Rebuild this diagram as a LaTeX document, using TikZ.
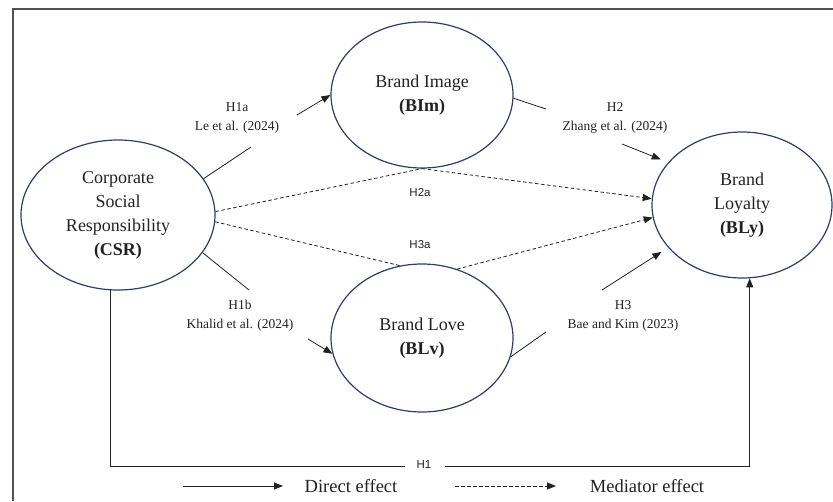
\documentclass[tikz,border=0pt]{standalone}
\usepackage{fontspec}
\setmainfont{Liberation Serif}
\newfontfamily\hsans{Liberation Sans}
\usetikzlibrary{shapes.geometric,arrows.meta}
\definecolor{navy}{RGB}{44,62,105}
\definecolor{ink}{RGB}{34,34,34}
\definecolor{framegray}{RGB}{80,80,80}
\begin{document}
\begin{tikzpicture}[x=1pt,y=-1pt,
  ell/.style={ellipse,draw=navy,line width=1.2pt,inner sep=0pt,align=center,text=ink,font=\fontsize{18}{24}\selectfont},
  cite/.style={align=center,text=ink,font=\fontsize{13.5}{19}\selectfont},
  hlab/.style={text=ink,font=\hsans\fontsize{11.5}{14}\selectfont},
  conn/.style={draw=ink,line width=0.8pt},
  arr/.style={conn,-{Triangle[length=9pt,width=7pt]}},
  dsh/.style={draw=ink,line width=0.8pt,dash pattern=on 3.5pt off 2.5pt},
  darr/.style={dsh,-{Triangle[length=9pt,width=7pt]}},
  leg/.style={text=ink,font=\fontsize{18.5}{22}\selectfont}]
\useasboundingbox (0,0) rectangle (833,501);
\draw[framegray,line width=1.5pt] (13,501) -- (13,9) -- (833,9);

% constructs
\node[ell,minimum width=194pt,minimum height=150pt] (CSR) at (118,215) {Corporate\\Social\\Responsibility\\\textbf{(CSR)}};
\node[ell,minimum width=182pt,minimum height=146pt] (BIm) at (422,95) {Brand Image\\\textbf{(BIm)}};
\node[ell,minimum width=182pt,minimum height=148pt] (BLv) at (422,338) {Brand Love\\\textbf{(BLv)}};
\node[ell,minimum width=180pt,minimum height=146pt] (BLy) at (742,205) {Brand\\Loyalty\\\textbf{(BLy)}};

% labels
\node[cite] (lH1a) at (237,118) {H1a\\Le et al. (2024)};
\node[cite] (lH1b) at (240,316) {H1b\\Khalid et al. (2024)};
\node[cite] (lH2) at (615,118) {H2\\Zhang et al. (2024)};
\node[cite] (lH3) at (623,316) {H3\\Bae and Kim (2023)};
\node[hlab] (lH2a) at (420,193) {H2a};
\node[hlab] (lH3a) at (420,245) {H3a};
\node[hlab] (lH1) at (424,465) {H1};

% H1a
\coordinate (a1) at (251,147);
\coordinate (a2) at (297,115);
\draw[conn] (CSR.23) -- (a1);
\draw[arr] (a2) -- (BIm.west);
% H1b
\coordinate (b1) at (249,290);
\coordinate (b2) at (308,339);
\draw[conn] (CSR.-24) -- (b1);
\draw[arr] (b2) -- (BLv.190);
% H2
\coordinate (c1) at (546,109);
\coordinate (c2) at (622,144);
\draw[conn] (BIm.-2) -- (c1);
\draw[arr,shorten >=8pt] (c2) -- (BLy.150);
% H3
\coordinate (d1) at (546,332);
\coordinate (d2) at (602,290);
\draw[conn] (BLv.-12) -- (d1);
\draw[arr,shorten >=8pt] (d2) -- (BLy.210);

% mediation paths
\draw[dsh] (CSR.2) -- (BIm.south);
\draw[darr] (BIm.south) -- (BLy.176);
\draw[dsh] (CSR.-4) -- (BLv.107);
\draw[darr] (BLv.63) -- (BLy.188);

% H1 direct
\coordinate (e1) at (405,466);
\coordinate (e2) at (445,466);
\draw[conn] (CSR.-96) |- (e1);
\draw[arr] (e2) -| (BLy.-84);

% legend
\coordinate (g1) at (183,486);
\coordinate (g2) at (283,486);
\draw[arr] (g1) -- (g2);
\node[leg] (tDirect) at (351,486) {Direct effect};
\coordinate (g3) at (455,486);
\coordinate (g4) at (556,486);
\draw[darr] (g3) -- (g4);
\node[leg] (tMed) at (647,486) {Mediator effect};
\end{tikzpicture}
\end{document}
